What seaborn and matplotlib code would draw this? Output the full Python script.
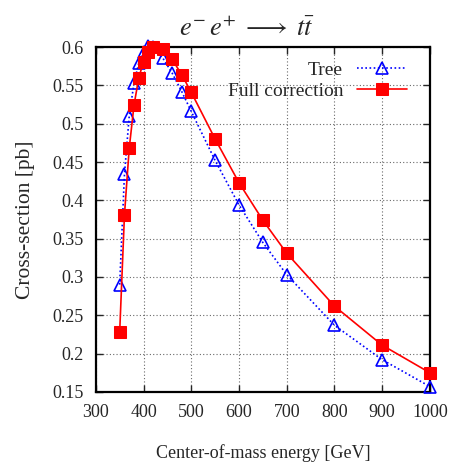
"""Top-pair production cross-section vs centre-of-mass energy."""

import matplotlib

matplotlib.use("Agg")

import matplotlib.pyplot as plt
import pandas as pd
import seaborn as sns

energy = [350, 360, 370, 380, 390, 400, 410, 420, 440, 460, 480, 500,
          550, 600, 650, 700, 800, 900, 1000]
tree = [0.290, 0.434, 0.510, 0.553, 0.579, 0.594, 0.601, 0.600, 0.586, 0.566,
        0.542, 0.516, 0.452, 0.394, 0.345, 0.303, 0.237, 0.192, 0.157]
full = [0.228, 0.381, 0.468, 0.524, 0.560, 0.581, 0.594, 0.600, 0.597, 0.584,
        0.564, 0.541, 0.480, 0.423, 0.374, 0.331, 0.262, 0.211, 0.175]
yticks = [0.15, 0.2, 0.25, 0.3, 0.35, 0.4, 0.45, 0.5, 0.55, 0.6]


def main():
    sns.set_style("ticks")
    plt.rcParams["font.family"] = ["Liberation Serif", "DejaVu Serif"]
    plt.rcParams["mathtext.fontset"] = "stix"

    df = pd.DataFrame({"energy": energy, "tree": tree, "full": full})

    fig = plt.figure(figsize=(4.52, 4.66), dpi=100)
    ax = fig.add_axes([0.212, 0.159, 0.739, 0.740])

    sns.lineplot(data=df, x="energy", y="tree", ax=ax, color="blue",
                 linestyle=(0, (1, 1.5)), lw=1.2, marker="^", markersize=8,
                 markerfacecolor="none", markeredgecolor="blue",
                 markeredgewidth=1.2, label="Tree", clip_on=False, zorder=3)
    sns.lineplot(data=df, x="energy", y="full", ax=ax, color="red",
                 lw=1.2, marker="s", markersize=9, markeredgecolor="red",
                 label="Full correction", clip_on=False, zorder=4)

    ax.set_xlim(300, 1000)
    ax.set_ylim(0.15, 0.6)
    ax.set_xticks(range(300, 1001, 100))
    ax.set_yticks(yticks)
    ax.set_yticklabels([f"{v:g}" for v in yticks])
    ax.grid(True, color="#444444", linestyle=(0, (1, 2)), lw=0.8, alpha=0.8)
    ax.tick_params(direction="in", top=True, right=True, labelsize=13,
                   length=5, width=1, pad=9)
    for spine in ax.spines.values():
        spine.set_linewidth(1.6)
        spine.set_color("black")

    ax.set_xlabel("Center-of-mass energy [GeV]", fontsize=13, labelpad=16)
    ax.set_ylabel("Cross-section [pb]", fontsize=15.5, labelpad=12)
    ax.set_title(r"$e^{-}\,e^{+}\;\longrightarrow\;t\bar{t}$", fontsize=19,
                 pad=8, x=0.452)

    ax.legend(loc="upper right", frameon=False, markerfirst=False,
              fontsize=14, handlelength=2.6, borderaxespad=0.5,
              labelspacing=0.2, handletextpad=0.7,
              bbox_to_anchor=(0.985, 1.01))

    fig.savefig("out.png", dpi=100)
    plt.close(fig)


if __name__ == "__main__":
    main()
